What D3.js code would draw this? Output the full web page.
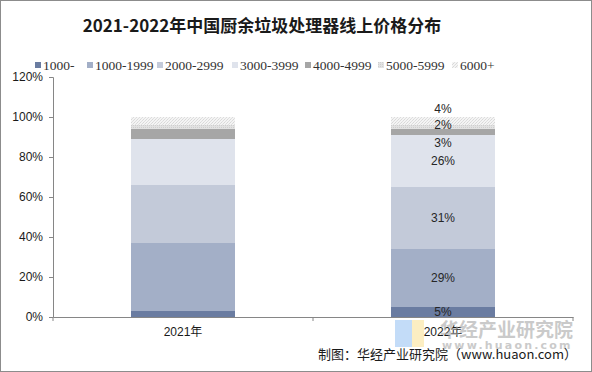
<!DOCTYPE html>
<html>
<head>
<meta charset="utf-8">
<script src="https://cdn.jsdelivr.net/npm/d3@7"></script>
<style>
  body { margin: 0; background: #fff; }
  svg { display: block; }
</style>
</head>
<body>
<div id="chart"></div>
<script>
// data
var years = ["2021年", "2022年"];
var priceBands = ["1000-", "1000-1999", "2000-2999", "3000-3999", "4000-4999", "5000-5999", "6000+"];
var share2021 = [3, 34, 29, 23, 5, 2, 4];
var share2022 = [5, 29, 31, 26, 3, 2, 4];
var yTicks = [0, 20, 40, 60, 80, 100, 120];
var bandColors = ["#6a7ca1", "#a3afc7", "#c3cad9", "#dfe3ec", "#a6a6a6", "#dadada", "#f0f0f0"];

var svgWidth = 592;
var svgHeight = 372;

var margin = { top: 77, right: 19, bottom: 55, left: 53 };
var width = svgWidth - margin.left - margin.right;
var height = svgHeight - margin.top - margin.bottom;

var svg = d3.select("#chart")
  .append("svg")
  .attr("width", svgWidth)
  .attr("height", svgHeight);

// patterns for the two top bands
var defs = svg.append("defs");
var p1 = defs.append("pattern")
  .attr("id", "pat5")
  .attr("width", 2).attr("height", 2)
  .attr("patternUnits", "userSpaceOnUse");
p1.append("rect").attr("width", 2).attr("height", 2).attr("fill", "#e2e2e2");
p1.append("rect").attr("width", 1).attr("height", 1).attr("fill", "#cfcfcf");
var p2 = defs.append("pattern")
  .attr("id", "pat6")
  .attr("width", 3).attr("height", 3)
  .attr("patternUnits", "userSpaceOnUse");
p2.append("rect").attr("width", 3).attr("height", 3).attr("fill", "#f4f4f4");
p2.append("rect").attr("x", 0).attr("y", 0).attr("width", 1).attr("height", 1).attr("fill", "#d8d8d8");
p2.append("rect").attr("x", 2).attr("y", 1).attr("width", 1).attr("height", 1).attr("fill", "#dcdcdc");
p2.append("rect").attr("x", 1).attr("y", 2).attr("width", 1).attr("height", 1).attr("fill", "#e0e0e0");

var fills = bandColors.slice();
fills[5] = "url(#pat5)";
fills[6] = "url(#pat6)";

// outer border
svg.append("rect")
  .attr("x", 0.5).attr("y", 0.5)
  .attr("width", svgWidth - 1).attr("height", svgHeight - 1)
  .attr("fill", "none")
  .attr("stroke", "#8c8c8c");

// title
svg.append("text")
  .attr("x", 262)
  .attr("y", 32)
  .attr("text-anchor", "middle")
  .attr("font-family", "'Noto Sans CJK SC', sans-serif")
  .attr("font-weight", "bold")
  .attr("font-size", "17px")
  .attr("fill", "#1a1a1a")
  .text("2021-2022年中国厨余垃圾处理器线上价格分布");

// legend
var legendX = [35, 87, 157, 232, 305, 378, 452];
var legend = svg.append("g");
priceBands.forEach(function(b, i) {
  legend.append("rect")
    .attr("x", legendX[i]).attr("y", 62)
    .attr("width", 6).attr("height", 6)
    .attr("fill", i < 5 ? bandColors[i] : fills[i]);
  legend.append("text")
    .attr("x", legendX[i] + 8).attr("y", 70)
    .attr("font-family", "'Liberation Serif', 'DejaVu Serif', serif")
    .attr("font-size", "13.5px")
    .attr("fill", "#333")
    .text(b);
});

var chartGroup = svg.append("g")
  .attr("transform", `translate(${margin.left}, ${margin.top})`);

// build stacked table
var rows = years.map(function(y, i) {
  var row = { year: y };
  var vals = i === 0 ? share2021 : share2022;
  priceBands.forEach(function(b, j) { row[b] = vals[j]; });
  return row;
});
var stacked = d3.stack().keys(priceBands)(rows);

var xScale = d3.scaleBand()
  .domain(years)
  .range([0, width]);

var yScale = d3.scaleLinear()
  .domain([0, 120])
  .range([height, 0]);

// bars
var barW = 104;
stacked.forEach(function(layer, j) {
  chartGroup.selectAll(null)
    .data(layer)
    .enter()
    .append("rect")
    .attr("x", d => xScale(d.data.year) + (xScale.bandwidth() - barW) / 2)
    .attr("y", d => yScale(d[1]))
    .attr("width", barW)
    .attr("height", d => yScale(d[0]) - yScale(d[1]))
    .attr("fill", fills[j]);
});

// y axis
var leftAxis = d3.axisLeft(yScale)
  .tickValues(yTicks)
  .tickSize(4)
  .tickFormat(d => d + "%");
var yAxisG = chartGroup.append("g").call(leftAxis);
yAxisG.select(".domain").attr("stroke", "#868686");
yAxisG.selectAll(".tick line").attr("stroke", "#868686");
yAxisG.selectAll("text")
  .attr("x", -10)
  .attr("font-family", "'Liberation Sans', Arial, sans-serif")
  .attr("font-size", "12px")
  .attr("fill", "#1a1a1a");

// x axis
var bottomAxis = d3.axisBottom(xScale).tickSize(0).tickPadding(10);
var xAxisG = chartGroup.append("g")
  .attr("transform", `translate(0, ${height})`)
  .call(bottomAxis);
xAxisG.select(".domain").attr("stroke", "#868686");
xAxisG.selectAll("text")
  .attr("font-family", "'Liberation Sans', 'Noto Sans CJK SC', sans-serif")
  .attr("font-size", "12px")
  .attr("fill", "#1a1a1a");
// category boundary ticks
chartGroup.selectAll(null)
  .data([0, width / 2, width])
  .enter()
  .append("line")
  .attr("x1", d => d).attr("x2", d => d)
  .attr("y1", height).attr("y2", height + 4)
  .attr("stroke", "#868686");

// labels for 2022 (small top bands are nudged so they don't collide)
var lastYear = years[1];
stacked.forEach(function(layer, j) {
  var d = layer[1];
  var yy = yScale((d[0] + d[1]) / 2) + 4;
  if (j === 4) yy = yScale(d[0]) + 12;
  if (j === 5) yy = yScale(d[1]) + 4;
  if (j === 6) yy = yScale(d[1]) - 4;
  chartGroup.append("text")
    .attr("x", xScale(lastYear) + xScale.bandwidth() / 2)
    .attr("y", yy)
    .attr("text-anchor", "middle")
    .attr("font-family", "'Liberation Sans', Arial, sans-serif")
    .attr("font-size", "12px")
    .attr("fill", "#262626")
    .text(d.data[priceBands[j]] + "%");
});

// watermark
var wm = svg.append("g").attr("opacity", 0.6);
wm.append("rect").attr("x", 395).attr("y", 320).attr("width", 17).attr("height", 27).attr("fill", "#9cc6f5");
wm.append("rect").attr("x", 412).attr("y", 320).attr("width", 12).attr("height", 27).attr("fill", "#fbe49a");
wm.append("text")
  .attr("x", 440).attr("y", 337)
  .attr("font-family", "'Noto Sans CJK SC', sans-serif")
  .attr("font-weight", "bold")
  .attr("font-size", "19px")
  .attr("fill", "#a8a8a8")
  .text("华经产业研究院");
wm.append("text")
  .attr("x", 442).attr("y", 349)
  .attr("font-family", "'DejaVu Sans', sans-serif")
  .attr("font-weight", "bold")
  .attr("font-size", "11px")
  .attr("letter-spacing", "2.2px")
  .attr("fill", "#a8a8a8")
  .text("www.huaon.com");

// source
svg.append("text")
  .attr("x", 577)
  .attr("y", 359)
  .attr("text-anchor", "end")
  .attr("font-family", "'Noto Sans CJK SC', sans-serif")
  .attr("font-size", "13px")
  .attr("fill", "#1a1a1a")
  .text("制图：华经产业研究院（www.huaon.com）");
</script>
</body>
</html>
